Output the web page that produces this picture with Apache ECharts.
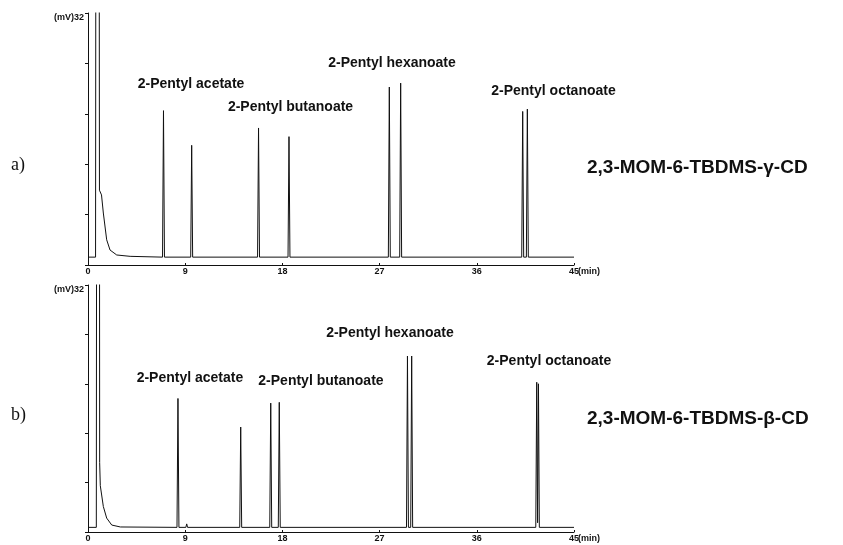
<!DOCTYPE html>
<html>
<head>
<meta charset="utf-8">
<script src="https://cdn.jsdelivr.net/npm/echarts@6/dist/echarts.min.js"></script>
<style>
  html, body { margin: 0; padding: 0; background: #fff; }
  #chart { width: 843px; height: 545px; }
</style>
</head>
<body>
<div id="chart"></div>
<script>
// Axis ranges: retention time (min) and detector signal (mV)
const timeTicks = [0, 9, 18, 27, 36, 45];
const signalMax = 32;

const compounds = ['2-Pentyl acetate', '2-Pentyl butanoate', '2-Pentyl hexanoate', '2-Pentyl octanoate'];
const columns = ['2,3-MOM-6-TBDMS-\u03b3-CD', '2,3-MOM-6-TBDMS-\u03b2-CD'];
const panelTags = ['a)', 'b)'];

// Chromatogram a): vertices of the trace, time (min) and signal (mV)
const timeA = [
  0, 0.70, 0.88, 1.06, 1.25, 1.42, 1.73, 2.04, 2.66, 3.9,
  6.90, 6.99, 7.08,
  9.51, 9.60, 9.69,
  15.70, 15.79, 15.88,
  18.52, 18.61, 18.70,
  27.81, 27.90, 27.99,
  28.86, 28.95, 29.04,
  40.16, 40.25, 40.34,
  40.59, 40.68, 40.77,
  45
];
const signalA = [
  1.0, 1.0, 300, 9.5, 8.9, 6.6, 3.2, 1.9, 1.27, 1.1,
  1.0, 19.6, 1.0,
  1.0, 15.2, 1.0,
  1.0, 17.4, 1.0,
  1.0, 16.3, 1.0,
  1.0, 22.6, 1.0,
  1.0, 23.1, 1.0,
  1.0, 19.5, 1.0,
  1.0, 19.8, 1.0,
  1.0
];

// Chromatogram b)
const timeB = [
  0, 0.77, 0.95, 1.08, 1.14, 1.42, 1.73, 2.2, 3.0,
  8.24, 8.33, 8.42,
  9.06, 9.14, 9.22,
  14.05, 14.14, 14.23,
  16.83, 16.92, 17.01,
  17.62, 17.71, 17.80,
  29.49, 29.58, 29.67,
  29.88, 29.97, 30.06,
  41.46, 41.55, 41.63, 41.71, 41.79,
  45
];
const signalB = [
  0.6, 0.6, 300, 9, 6.0, 3.3, 1.8, 0.9, 0.65,
  0.6, 17.3, 0.6,
  0.6, 1.05, 0.6,
  0.6, 13.6, 0.6,
  0.6, 16.7, 0.6,
  0.6, 16.8, 0.6,
  0.6, 22.8, 0.6,
  0.6, 22.8, 0.6,
  0.6, 19.4, 1.2, 19.2, 0.6,
  0.6
];

const zip = (t, v) => t.map((x, i) => [x, v[i]]);

// Where each compound name sits in each panel (time, mV)
const notePlacement = [
  [[9.54, 23.0], [18.75, 20.1], [28.15, 25.6], [43.1, 22.1]],
  [[9.44, 19.9], [21.57, 19.6], [27.96, 25.7], [42.69, 22.2]]
];

const ink = '#111';
const sans = 'Liberation Sans, Arial, sans-serif';
const tickStep = timeTicks[1] - timeTicks[0];

function xAxisFor(i) {
  return {
    gridIndex: i, type: 'value',
    min: timeTicks[0], max: timeTicks[timeTicks.length - 1], interval: tickStep,
    axisLine: { lineStyle: { color: ink, width: 1 } },
    axisTick: { show: true, inside: true, length: 2, lineStyle: { color: ink } },
    axisLabel: { fontSize: 9, fontWeight: 'bold', color: ink, fontFamily: sans, margin: 2 },
    splitLine: { show: false },
    // unit set flush against the last tick label
    name: '(min)', nameLocation: 'end', nameGap: 4, nameMoveOverlap: false,
    nameTextStyle: { fontSize: 9, fontWeight: 'bold', color: ink, fontFamily: sans,
                     align: 'left', verticalAlign: 'top', padding: [2, 0, 0, 0] }
  };
}

function yAxisFor(i) {
  return {
    gridIndex: i, type: 'value', min: 0, max: signalMax, interval: signalMax / 5,
    axisLine: { show: true, lineStyle: { color: ink, width: 1 } },
    axisTick: { show: true, length: 3, lineStyle: { color: ink } },
    axisLabel: {
      fontSize: 9, fontWeight: 'bold', color: ink, fontFamily: sans, margin: 4,
      verticalAlign: 'top',
      formatter: v => (Math.abs(v - signalMax) < 1e-6 ? '(mV)' + signalMax : '')
    },
    splitLine: { show: false }
  };
}

function traceSeries(i, data) {
  return {
    type: 'line', xAxisIndex: i, yAxisIndex: i, data,
    showSymbol: false, symbol: 'none', clip: true, smooth: false,
    lineStyle: { color: ink, width: 1 }, silent: true, animation: false
  };
}

function notesSeries(i) {
  return {
    type: 'scatter', xAxisIndex: i, yAxisIndex: i,
    symbolSize: 1, itemStyle: { color: 'rgba(0,0,0,0)', opacity: 1 },
    silent: true, animation: false,
    data: compounds.map((name, k) => ({ name, value: notePlacement[i][k] })),
    label: {
      show: true, position: 'inside', formatter: '{b}', opacity: 1,
      fontSize: 14, fontWeight: 'bold', color: ink, fontFamily: sans,
      textBorderWidth: 0
    }
  };
}

const chart = echarts.init(document.getElementById('chart'), null, { renderer: 'canvas' });
chart.setOption({
  backgroundColor: '#fff',
  animation: false,
  title: [
    { text: panelTags[0], left: 11, top: 156, padding: 0,
      textStyle: { fontFamily: 'Liberation Serif, serif', fontSize: 18, fontWeight: 'normal', color: ink } },
    { text: panelTags[1], left: 11, top: 406, padding: 0,
      textStyle: { fontFamily: 'Liberation Serif, serif', fontSize: 18, fontWeight: 'normal', color: ink } },
    { text: columns[0], left: 587, top: 158, padding: 0,
      textStyle: { fontFamily: sans, fontSize: 19, fontWeight: 'bold', color: ink } },
    { text: columns[1], left: 587, top: 409, padding: 0,
      textStyle: { fontFamily: sans, fontSize: 19, fontWeight: 'bold', color: ink } }
  ],
  grid: [
    { left: 88, width: 486, top: 13, height: 252 },
    { left: 88, width: 486, top: 285, height: 247 }
  ],
  xAxis: [xAxisFor(0), xAxisFor(1)],
  yAxis: [yAxisFor(0), yAxisFor(1)],
  series: [
    traceSeries(0, zip(timeA, signalA)),
    traceSeries(1, zip(timeB, signalB)),
    notesSeries(0),
    notesSeries(1)
  ]
});
</script>
</body>
</html>
